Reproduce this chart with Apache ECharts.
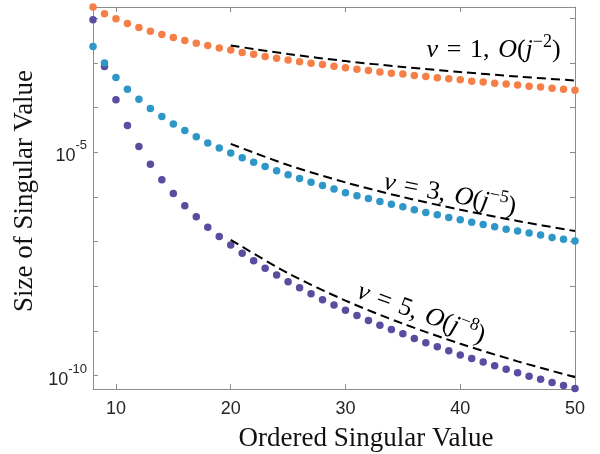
<!DOCTYPE html>
<html>
<head>
<meta charset="utf-8">
<script src="https://cdn.jsdelivr.net/npm/echarts@6/dist/echarts.min.js"></script>
<style>
  html, body { margin: 0; padding: 0; background: #fff; }
  #chart { width: 600px; height: 454px; }
</style>
</head>
<body>
<div id="chart"></div>
<script>
// index j of the ordered singular values
var orderIndex = [8, 9, 10, 11, 12, 13, 14, 15, 16, 17, 18, 19, 20, 21, 22, 23, 24, 25, 26, 27, 28,
    29, 30, 31, 32, 33, 34, 35, 36, 37, 38, 39, 40, 41, 42, 43, 44, 45, 46, 47, 48, 49, 50];

// nu = 1
var sigmaNu1 = [1.76e-2, 1.245e-2, 9.62e-3, 7.55e-3, 6.15e-3, 5.1e-3, 4.29e-3, 3.67e-3, 3.15e-3, 2.75e-3,
    2.43e-3, 2.13e-3, 1.92e-3, 1.69e-3, 1.56e-3, 1.38e-3, 1.27e-3, 1.15e-3, 1.05e-3, 9.8e-4, 9.1e-4,
    8.4e-4, 7.7e-4, 7.2e-4, 6.7e-4, 6.2e-4, 5.86e-4, 5.57e-4, 5.18e-4, 4.92e-4, 4.6e-4, 4.38e-4, 4.15e-4,
    3.88e-4, 3.69e-4, 3.5e-4, 3.33e-4, 3.16e-4, 3.0e-4, 2.85e-4, 2.7e-4, 2.57e-4, 2.44e-4];

// nu = 3
var sigmaNu3 = [2.31e-3, 9.82e-4, 4.68e-4, 2.57e-4, 1.53e-4, 9.46e-5, 6.27e-5, 4.24e-5, 3.04e-5, 2.2e-5,
    1.61e-5, 1.23e-5, 9.51e-6, 7.45e-6, 5.97e-6, 4.76e-6, 3.81e-6, 3.1e-6, 2.56e-6, 2.13e-6, 1.79e-6,
    1.49e-6, 1.23e-6, 1.05e-6, 9.16e-7, 7.83e-7, 6.85e-7, 5.97e-7, 5.12e-7, 4.45e-7, 3.95e-7, 3.44e-7,
    3.05e-7, 2.71e-7, 2.4e-7, 2.13e-7, 1.89e-7, 1.71e-7, 1.54e-7, 1.39e-7, 1.23e-7, 1.13e-7, 1.02e-7];

// nu = 5
var sigmaNu5 = [9.14e-3, 8.24e-4, 1.48e-4, 3.94e-5, 1.33e-5, 5.38e-6, 2.4e-6, 1.18e-6, 6.28e-7, 3.56e-7,
    2.09e-7, 1.29e-7, 8.3e-8, 5.43e-8, 3.69e-8, 2.51e-8, 1.77e-8, 1.25e-8, 9.18e-9, 6.75e-9, 4.94e-9,
    3.77e-9, 2.91e-9, 2.2e-9, 1.7e-9, 1.34e-9, 1.07e-9, 8.57e-10, 6.73e-10, 5.4e-10, 4.39e-10, 3.57e-10,
    2.9e-10, 2.4e-10, 2.0e-10, 1.65e-10, 1.39e-10, 1.15e-10, 9.7e-11, 8.3e-11, 6.97e-11, 5.97e-11, 5.12e-11];

// dashed reference rates, read at a few j between 20 and 50
var refIndex = [20, 25, 30, 35, 40, 45, 50];
var refNu1 = [2.43e-3, 1.57e-3, 1.09e-3, 8.07e-4, 6.21e-4, 4.92e-4, 4.0e-4];
var refNu3 = [1.53e-5, 5.14e-6, 2.1e-6, 9.89e-7, 5.14e-7, 2.88e-7, 1.71e-7];
var refNu5 = [1.09e-7, 1.95e-8, 4.76e-9, 1.45e-9, 5.16e-10, 2.08e-10, 9.2e-11];

var xTicks = [10, 20, 30, 40, 50];
var yTicks = [1e-10, 1e-9, 1e-8, 1e-7, 1e-6, 1e-5, 1e-4, 1e-3, 1e-2];
var yLabels = [1e-10, 1e-5];

var axisGrey = '#8c8c8c';
var serif = 'Liberation Serif';

function pairs(xs, ys) {
    var out = [];
    for (let i = 0; i < xs.length; i++) {
        out.push([xs[i], ys[i]]);
    }
    return out;
}

function dots(name, color, values, z) {
    return {
        name: name,
        type: 'scatter',
        data: pairs(orderIndex, values),
        symbol: 'circle',
        symbolSize: 7.5,
        clip: false,
        z: z,
        itemStyle: { color: color, opacity: 1 },
        silent: true
    };
}

function dashed(values) {
    return {
        type: 'line',
        data: pairs(refIndex, values),
        showSymbol: false,
        smooth: 0.3,
        clip: false,
        z: 10,
        lineStyle: { color: '#000', width: 2, type: [9, 5] },
        silent: true
    };
}

var tickStyle = { show: true, inside: true, length: 5, lineStyle: { color: axisGrey } };

var option = {
    animation: false,
    grid: { left: 93, right: 25, top: 7, bottom: 65 },
    xAxis: [
        {
            type: 'value', min: 8, max: 50, position: 'bottom',
            axisLine: { lineStyle: { color: axisGrey } },
            axisTick: Object.assign({ customValues: xTicks }, tickStyle),
            axisLabel: {
                customValues: xTicks, margin: 11,
                fontFamily: 'Liberation Sans', fontSize: 18, color: '#262626'
            },
            splitLine: { show: false }
        },
        {
            type: 'value', min: 8, max: 50, position: 'top',
            axisLine: { lineStyle: { color: axisGrey } },
            axisTick: Object.assign({ customValues: xTicks }, tickStyle),
            axisLabel: { show: false },
            splitLine: { show: false }
        }
    ],
    yAxis: [
        {
            type: 'log', logBase: 10, min: 5.0e-11, max: 1.77e-2, position: 'left',
            axisLine: { show: true, lineStyle: { color: axisGrey } },
            axisTick: Object.assign({ customValues: yTicks }, tickStyle),
            axisLabel: {
                customValues: yLabels, margin: 6,
                formatter: function(v) {
                    return '{b|10}{s|' + Math.round(Math.log10(v)) + '}';
                },
                rich: {
                    b: { fontFamily: 'Liberation Sans', fontSize: 18, color: '#262626', verticalAlign: 'bottom', lineHeight: 26 },
                    s: { fontFamily: 'Liberation Sans', fontSize: 13, color: '#262626', verticalAlign: 'top', lineHeight: 26 }
                }
            },
            splitLine: { show: false }
        },
        {
            type: 'log', logBase: 10, min: 5.0e-11, max: 1.77e-2, position: 'right',
            axisLine: { show: true, lineStyle: { color: axisGrey } },
            axisTick: Object.assign({ customValues: yTicks }, tickStyle),
            axisLabel: { show: false },
            splitLine: { show: false }
        }
    ],
    series: [
        dots('nu5', '#5b4ca0', sigmaNu5, 2),
        dots('nu3', '#2e97c7', sigmaNu3, 3),
        dots('nu1', '#f67f47', sigmaNu1, 4),
        dashed(refNu1),
        dashed(refNu3),
        dashed(refNu5)
    ]
};

var myChart = echarts.init(document.getElementById('chart'), null, { renderer: 'canvas' });
myChart.setOption(option);

// math annotations, anchored in data coordinates
var mathRich = {
    i: { fontFamily: serif, fontStyle: 'italic', fontSize: 26, color: '#111' },
    r: { fontFamily: serif, fontSize: 26, color: '#111' },
    s: { fontFamily: serif, fontSize: 18, color: '#111', verticalAlign: 'top', lineHeight: 34 }
};

var notes = [
    { nu: 1, order: 2, at: [42.9, 1.95e-3], angle: 0 },
    { nu: 3, order: 5, at: [39.1, 1.1e-6], angle: -11 },
    { nu: 5, order: 8, at: [36.6, 2.4e-9], angle: -20 }
];

var graphics = [];
notes.forEach(function(n) {
    let p = myChart.convertToPixel({ xAxisIndex: 0, yAxisIndex: 0 }, n.at);
    graphics.push({
        type: 'text',
        x: p[0], y: p[1],
        rotation: n.angle * Math.PI / 180,
        silent: true,
        z: 20,
        style: {
            text: '{i|\u03bd}{r|\u2004=\u2004' + n.nu + ',\u2004}{i|O}{r|(}{i|j}{s|\u2212' + n.order + '}{r|)}',
            rich: mathRich,
            align: 'center',
            verticalAlign: 'middle'
        }
    });
});

// axis titles
graphics.push({
    type: 'text', x: 366, y: 439, silent: true,
    style: { text: 'Ordered Singular Value', fontFamily: serif, fontSize: 27, fill: '#111', align: 'center', verticalAlign: 'middle' }
});
graphics.push({
    type: 'text', x: 25, y: 191, rotation: Math.PI / 2, silent: true,
    style: { text: 'Size of Singular Value', fontFamily: serif, fontSize: 27, fill: '#111', align: 'center', verticalAlign: 'middle' }
});

myChart.setOption({ graphic: graphics });
</script>
</body>
</html>
